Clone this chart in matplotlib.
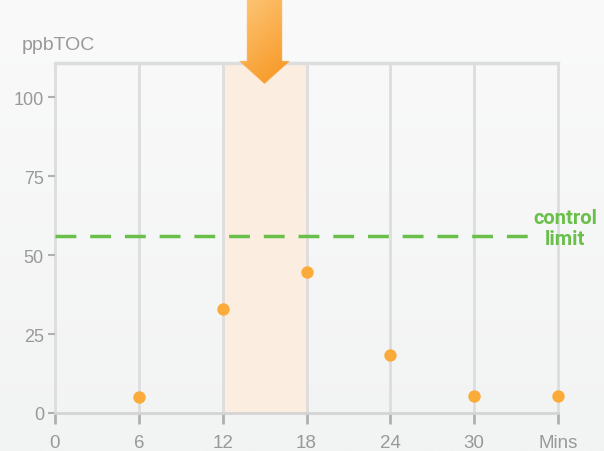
import numpy as np
import matplotlib.pyplot as plt
from matplotlib.colors import LinearSegmentedColormap
from matplotlib.path import Path

# data
minutes = [6, 12, 18, 24, 30, 36]
toc = [5.2, 33, 44.5, 18.5, 5.5, 5.5]
control_limit = 56
x_ticks = [0, 6, 12, 18, 24, 30, 36]
x_labels = ['0', '6', '12', '18', '24', '30', 'Mins']
y_ticks = [0, 25, 50, 75, 100]
shade_start, shade_end = 12, 18
arrow_x = 15

plt.rcParams['font.family'] = ['Liberation Sans', 'DejaVu Sans']

fig = plt.figure(figsize=(6.04, 4.52), dpi=100)

# light grey gradient background
bg = fig.add_axes([0, 0, 1, 1], zorder=-10)
grad = np.linspace(0, 1, 256).reshape(-1, 1)
bg.imshow(grad, aspect='auto', extent=[0, 1, 0, 1],
          cmap=LinearSegmentedColormap.from_list('bg', ['#fafafa', '#f2f3f3']))
bg.axis('off')

ax = fig.add_axes([55 / 604, 38 / 452, 503 / 604, 350 / 452])
ax.set_facecolor('none')
ymax = 110.8

# vertical grid
for x in x_ticks:
    ax.axvline(x, color='#dddddd', lw=2, zorder=1, clip_on=False)
ax.axhline(ymax, color='#dddddd', lw=2.5, zorder=1, clip_on=False)

ax.axvspan(shade_start, shade_end, color='#fbeee0', zorder=0.5, lw=0)

for s in ['left', 'right', 'top']:
    ax.spines[s].set_visible(False)
ax.spines['bottom'].set_color('#d4d4d4')
ax.spines['bottom'].set_linewidth(2)

ax.set_xticks(x_ticks)
ax.set_xticklabels(x_labels)
ax.set_yticks(y_ticks)
ax.tick_params(axis='x', colors='#b0b0b0', length=8, width=2, labelcolor='#999999',
               labelsize=13.5, pad=7)
ax.tick_params(axis='y', colors='#b0b0b0', length=5, width=1.5, labelcolor='#999999',
               labelsize=13, pad=3)

# control limit
ax.plot([0, 34.4], [control_limit, control_limit], color='#6abf4b', lw=2.5,
        dashes=(6, 4), zorder=2)
ax.text(36.5, 58.6, 'control\nlimit', color='#6abf4b', fontsize=14.5,
        fontweight='bold', ha='center', va='center', linespacing=1.1,
        family=['Roboto', 'DejaVu Sans'], clip_on=False)

ax.scatter(minutes, toc, s=80, color='#fbab3a', zorder=3, clip_on=False, lw=0)

fig.text(22 / 604, 1 - 46 / 452, 'ppbTOC', color='#999999', fontsize=14, va='center')

# orange arrow with gradient, masked to arrow shape
arrow_pts = [(arrow_x - 1.25, 131), (arrow_x + 1.25, 131), (arrow_x + 1.25, 111.2),
             (arrow_x + 1.8, 111.2), (arrow_x, 104), (arrow_x - 1.8, 111.2),
             (arrow_x - 1.25, 111.2)]
arrow_path = Path(arrow_pts + [arrow_pts[0]], closed=True)
gxs = np.linspace(arrow_x - 1.8, arrow_x + 1.8, 200)
gys = np.linspace(131, 104, 300)
GX, GY = np.meshgrid(gxs, gys)
inside = arrow_path.contains_points(np.column_stack([GX.ravel(), GY.ravel()])).reshape(GX.shape)
tx = (GX - gxs[0]) / (gxs[-1] - gxs[0])
ty = (131 - GY) / 27
cm = LinearSegmentedColormap.from_list('ar', ['#fdc779', '#f7941d'])
rgba = cm(np.clip(0.35 * tx + 0.65 * ty, 0, 1))
rgba[..., 3] = inside.astype(float)
ax.imshow(rgba, extent=[gxs[0], gxs[-1], 104, 131], origin='upper',
          aspect='auto', zorder=5, clip_on=False, interpolation='bilinear')

ax.set_xlim(0, 36)
ax.set_ylim(0, ymax)

fig.savefig('out.png', dpi=100)
